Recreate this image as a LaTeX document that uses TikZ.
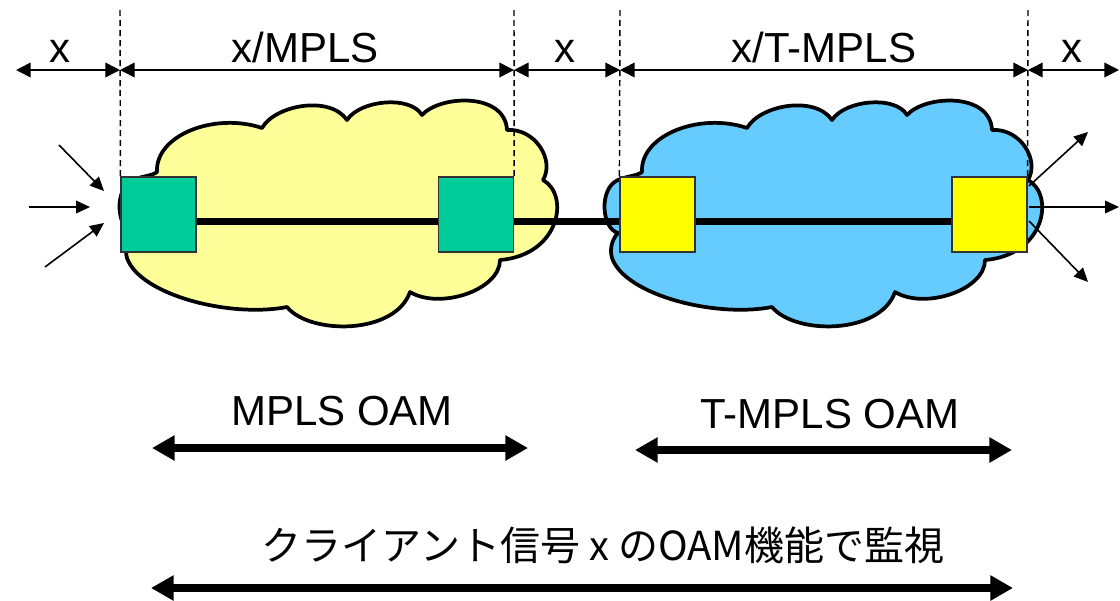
\documentclass[tikz,border=0pt]{standalone}
\usepackage{fontspec}
\setmainfont{Liberation Sans}
\newfontfamily\jpfont{Noto Sans CJK JP}
\usetikzlibrary{arrows.meta}

\definecolor{nodegreen}{HTML}{00CC99}
\definecolor{nodeyellow}{HTML}{FFFF00}
\definecolor{cloudyellow}{HTML}{FFFF99}
\definecolor{cloudblue}{HTML}{66CCFF}
\definecolor{boxedge}{HTML}{333333}

\tikzset{
  netcloud/.pic={
    \path[pic actions]
      (127,258) .. controls (124,248) and (128,238) .. (133,233)
      .. controls (116,228) and (114,188) .. (133,180)
      .. controls (142,176) and (152,176) .. (157,172)
      .. controls (155,135) and (215,112) .. (262,128)
      .. controls (275,105) and (330,95) .. (347,120)
      .. controls (360,100) and (410,95) .. (422,115)
      .. controls (440,95) and (505,92) .. (507,130)
      .. controls (535,128) and (555,160) .. (543,180)
      .. controls (570,195) and (560,255) .. (500,260)
      .. controls (500,290) and (440,310) .. (410,292)
      .. controls (395,335) and (310,335) .. (287,307)
      .. controls (230,318) and (140,295) .. (127,258)
      -- cycle;
  },
  cloudline/.style={draw=black, line width=2.8pt, line join=round},
  nebox/.style={draw=boxedge, line width=1.1pt, minimum width=56pt,
    minimum height=56pt, inner sep=0pt},
  guide/.style={dashed, dash pattern=on 4.5pt off 3pt, line width=1.1pt},
  dimarrow/.style={line width=1.2pt,
    {Triangle[length=11pt,width=11pt]}-{Triangle[length=11pt,width=11pt]}},
  sigarrow/.style={line width=1.2pt, -{Triangle[length=10.5pt,width=9.5pt]}},
  oamarrow/.style={line width=6.2pt,
    {Triangle[length=17pt,width=18pt]}-{Triangle[length=17pt,width=18pt]}},
  trunk/.style={line width=5.4pt},
  lbl/.style={inner sep=0pt, anchor=base, font=\fontsize{31.5pt}{36pt}\selectfont},
  jplbl/.style={inner sep=0pt, anchor=base, font=\jpfont\fontsize{30pt}{36pt}\selectfont},
}

\begin{document}
\begin{tikzpicture}[x=0.75pt, y=-0.75pt]
  \useasboundingbox (0,0) rectangle (1120,600);

  % two network clouds
  \pic[cloudline, fill=cloudyellow] at (0,0) {netcloud};
  \pic[cloudline, fill=cloudblue] at (485,0) {netcloud};

  % edge nodes
  \node[nebox, fill=nodegreen]  (g1) at (158.5,214.5) {};
  \node[nebox, fill=nodegreen]  (g2) at (476,214.5) {};
  \node[nebox, fill=nodeyellow] (y1) at (657.5,214.5) {};
  \node[nebox, fill=nodeyellow] (y2) at (989.5,214.5) {};

  % end-to-end path through the nodes
  \draw[trunk] ([yshift=-5.5pt]g1.east) -- ([yshift=-5.5pt]g2.west);
  \draw[trunk] ([yshift=-5.5pt]g2.east) -- ([yshift=-5.5pt]y1.west);
  \draw[trunk] ([yshift=-5.5pt]y1.east) -- ([yshift=-5.5pt]y2.west);
  \foreach \n in {g1,g2,y1,y2} \node[nebox] at (\n) {};

  % boundary guides
  \coordinate (t1) at (120,10);
  \coordinate (t2) at (514,10);
  \coordinate (t3) at (620,10);
  \coordinate (t4) at (1028,10);
  \draw[guide] (t1) -- (g1.north west);
  \draw[guide] (t2) -- (g2.north east);
  \draw[guide] (t3) -- (y1.north west);
  \draw[guide] (t4) -- (y2.north east);

  % layer dimension arrows
  \coordinate (a0) at (16,70);
  \coordinate (a1) at (120,70);
  \coordinate (a2) at (514,70);
  \coordinate (a3) at (620,70);
  \coordinate (a4) at (1028,70);
  \coordinate (a5) at (1119,70);
  \draw[dimarrow] (a0) -- (a1);
  \draw[dimarrow] (a1) -- (a2);
  \draw[dimarrow] (a2) -- (a3);
  \draw[dimarrow] (a3) -- (a4);
  \draw[dimarrow] (a4) -- (a5);
  \node[lbl] (lx1) at (60,62) {x};
  \node[lbl] (lmp) at (305,62) {x/MPLS};
  \node[lbl] (lx2) at (565,62) {x};
  \node[lbl] (ltm) at (824,62) {x/T-MPLS};
  \node[lbl] (lx3) at (1072,62) {x};

  % client signals in
  \coordinate (i1s) at (59,145);  \coordinate (i1e) at (104,191);
  \coordinate (i2s) at (29,207);  \coordinate (i2e) at (90,207);
  \coordinate (i3s) at (45,267);  \coordinate (i3e) at (104,223);
  \draw[sigarrow] (i1s) -- (i1e);
  \draw[sigarrow] (i2s) -- (i2e);
  \draw[sigarrow] (i3s) -- (i3e);

  % client signals out
  \coordinate (o1s) at (1029,186); \coordinate (o1e) at (1088,132);
  \coordinate (o2s) at (1029,207); \coordinate (o2e) at (1119,207);
  \coordinate (o3s) at (1029,221); \coordinate (o3e) at (1088,282);
  \draw[sigarrow] (o1s) -- (o1e);
  \draw[sigarrow] (o2s) -- (o2e);
  \draw[sigarrow] (o3s) -- (o3e);

  % OAM scopes
  \node[lbl] (mo) at (342,425) {MPLS OAM};
  \coordinate (m1) at (152,448);
  \coordinate (m2) at (528,448);
  \draw[oamarrow] (m1) -- (m2);

  \node[lbl] (to) at (830,428) {T-MPLS OAM};
  \coordinate (n1) at (635,450);
  \coordinate (n2) at (1012,450);
  \draw[oamarrow] (n1) -- (n2);

  \node[jplbl] (co) at (603,560) {クライアント信号 x のOAM機能で監視};
  \coordinate (c1) at (151,588);
  \coordinate (c2) at (1013,588);
  \draw[oamarrow] (c1) -- (c2);
\end{tikzpicture}
\end{document}
